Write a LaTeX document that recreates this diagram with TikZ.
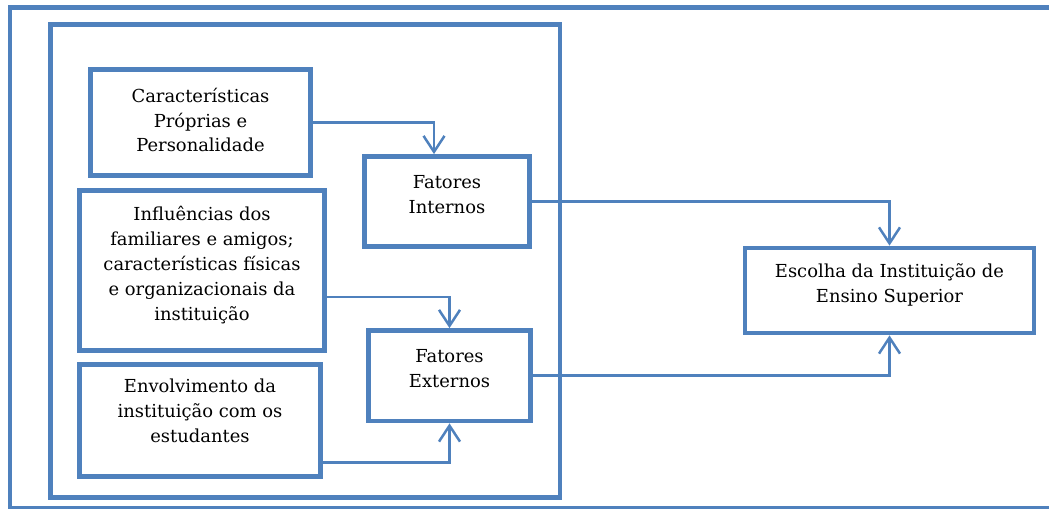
\documentclass[tikz,border=0pt]{standalone}
\usepackage{fontspec}
\setmainfont{DejaVu Serif}
\usepackage{xcolor}
\definecolor{boxblue}{RGB}{79,129,189}
\usepackage{tikz}
\usetikzlibrary{arrows.meta,positioning}
\tikzset{
  moldura/.style={draw=boxblue, line width=0.095cm},
  caixa/.style={draw=boxblue, line width=0.095cm, fill=white, align=center, inner sep=2pt, text depth=8pt, font=\fontsize{10.2}{14.2}\selectfont},
  arr/.style={draw=boxblue, line width=0.05cm, -{Straight Barb[length=0.32cm,width=0.42cm]}}
}

\begin{document}
\begin{tikzpicture}[x=0.02cm, y=-0.02cm]
  \clip (0,0) rectangle (1049,509);
  % molduras
  \draw[moldura] (10,7.5) rectangle (1080,508);
  \draw[moldura] (50.5,24.5) rectangle (560,497.5);
  % fatores
  \node[caixa, text depth=3pt, minimum width=4.4cm, minimum height=2.12cm] (prop) at (200.5,122.5) {Características\\Próprias e\\Personalidade};
  \node[caixa, minimum width=4.9cm, minimum height=3.2cm] (infl) at (202,270.5) {Influências dos\\familiares e amigos;\\características físicas\\e organizacionais da\\instituição};
  \node[caixa, text depth=11pt, minimum width=4.82cm, minimum height=2.24cm] (envol) at (200,420.5) {Envolvimento da\\instituição com os\\estudantes};
  \node[caixa, minimum width=3.3cm, minimum height=1.8cm] (fint) at (447,201.5) {Fatores\\Internos};
  \node[caixa, minimum width=3.24cm, minimum height=1.81cm] (fext) at (449.5,375.75) {Fatores\\Externos};
  \node[caixa, minimum width=5.78cm, minimum height=1.7cm] (escolha) at (889.5,290.5) {Escolha da Instituição de\\Ensino Superior};
  % ligacoes
  \draw[arr] (prop.east) -| ([xshift=-0.26cm]fint.north);
  \draw[arr] ([yshift=-0.53cm]infl.east) -| (fext.north);
  \draw[arr] ([yshift=-0.84cm]envol.east) -| (fext.south);
  \draw[arr] (fint.east) -| (escolha.north);
  \draw[arr] (fext.east) -| (escolha.south);
\end{tikzpicture}
\end{document}
